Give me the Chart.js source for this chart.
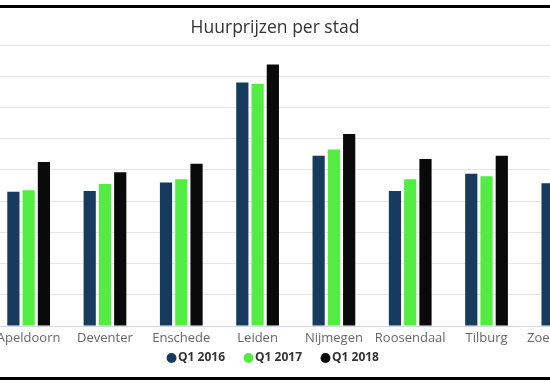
<!DOCTYPE html>
<html>
<head>
<meta charset="utf-8">
<script src="https://cdn.jsdelivr.net/npm/chart.js@4/dist/chart.umd.min.js"></script>
<style>
	html, body {
		margin: 0;
		padding: 0;
		width: 550px;
		height: 385px;
		overflow: hidden;
		background: #fff;
	}
	.frame-line {
		position: absolute;
		left: 0;
		width: 550px;
		height: 3px;
		background: #000;
	}
	.chart-wrap {
		position: absolute;
		left: -51px;
		top: 8px;
		width: 652px;
		height: 366px;
	}
</style>
</head>
<body>
<div class="chart-wrap">
	<canvas id="rent-chart"></canvas>
</div>
<div class="frame-line" style="top: 5px;"></div>
<div class="frame-line" style="top: 377px;"></div>

<script>
const cities = ['Apeldoorn', 'Deventer', 'Enschede', 'Leiden', 'Nijmegen', 'Roosendaal', 'Tilburg', 'Zoetermeer'];
const q1of2016 = [8.6, 8.65, 9.2, 15.6, 10.9, 8.65, 9.75, 9.15];
const q1of2017 = [8.7, 9.1, 9.4, 15.5, 11.3, 9.4, 9.6, 9.5];
const q1of2018 = [10.5, 9.85, 10.4, 16.75, 12.3, 10.7, 10.9, 10.4];
const yTicks = [0, 2, 4, 6, 8, 10, 12, 14, 16, 18];

const ctx = document.getElementById('rent-chart');

new Chart(ctx, {
	type: 'bar',
	data: {
		labels: cities,
		datasets: [
			{ label: 'Q1 2016', data: q1of2016, backgroundColor: '#173b5f', borderWidth: 0 },
			{ label: 'Q1 2017', data: q1of2017, backgroundColor: '#52ec42', borderWidth: 0 },
			{ label: 'Q1 2018', data: q1of2018, backgroundColor: '#0a0a0a', borderWidth: 0 },
		],
	},
	options: {
		responsive: true,
		maintainAspectRatio: false,
		animation: false,
		devicePixelRatio: 1,
		layout: {
			padding: 0,
		},
		datasets: {
			bar: {
				categoryPercentage: 0.6,
				barPercentage: 0.8,
			},
		},
		plugins: {
			title: {
				display: true,
				text: 'Huurprijzen per stad',
				color: '#333333',
				font: { family: 'Open Sans', size: 17.5, weight: 'normal' },
				padding: { top: 10, bottom: 6 },
			},
			legend: {
				position: 'bottom',
				labels: {
					usePointStyle: true,
					pointStyle: 'circle',
					// tiny box so the dot sits right against its text
					boxWidth: 1,
					boxHeight: 7,
					padding: 23,
					color: '#333333',
					font: { family: 'Open Sans', size: 12, weight: 'bold' },
				},
			},
			tooltip: { enabled: false },
		},
		scales: {
			x: {
				grid: { display: false, drawTicks: false },
				border: { color: '#ccd6eb' },
				ticks: {
					color: '#666666',
					// mirrored with negative padding: labels sit below the axis without being clipped
					mirror: true,
					padding: -19.8,
					maxRotation: 0,
					autoSkip: false,
					font: { family: 'Open Sans', size: 13 },
				},
				afterFit: (axis) => {
					axis.height = 3;
				},
			},
			y: {
				min: yTicks[0],
				max: yTicks[yTicks.length - 1],
				afterBuildTicks: (axis) => {
					axis.ticks = yTicks.map((v) => ({ value: v }));
				},
				afterFit: (axis) => {
					axis.width = 41.5;
				},
				grid: { color: '#e6e6e6', drawTicks: false },
				border: { display: false },
				ticks: { display: false },
			},
		},
	},
});
</script>
</body>
</html>
